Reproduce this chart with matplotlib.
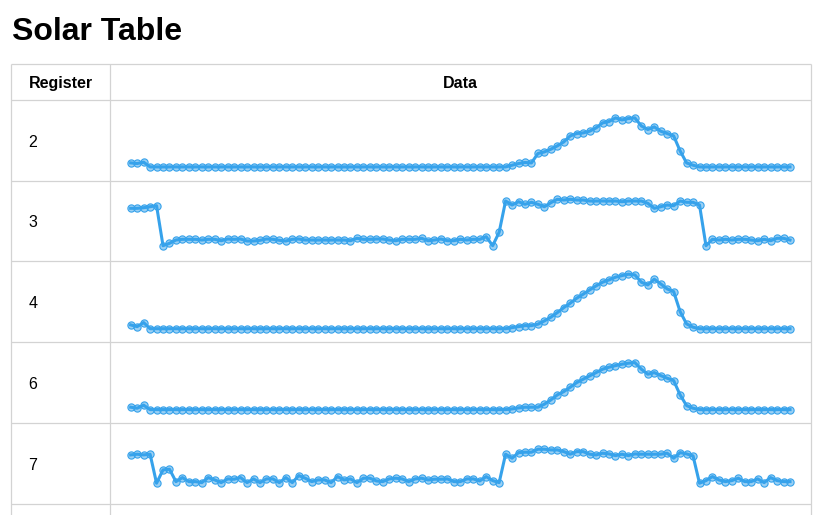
import matplotlib
matplotlib.use("Agg")
import matplotlib.pyplot as plt

plt.rcParams['font.family'] = ['Liberation Sans', 'DejaVu Sans']

# ---------------- data ----------------
title = "Solar Table"
headers = ["Register", "Data"]
registers = ["2", "3", "4", "6", "7"]

reg2 = [4, 3.4, 4.7,
        0, 0, 0, 0, 0, 0, 0, 0, 0, 0, 0, 0, 0, 0, 0, 0, 0, 0, 0, 0, 0, 0, 0, 0, 0, 0, 0, 0,
        0, 0, 0, 0, 0, 0, 0, 0, 0, 0, 0, 0, 0, 0, 0, 0, 0, 0, 0, 0, 0, 0, 0, 0, 0, 0, 0, 0,
        1.7, 3.4, 4.4, 4, 13.4, 15, 17.7, 21, 25, 31, 33.4, 34, 35.7, 39, 44, 45.4, 49, 47,
        48.4, 49, 41, 37.4, 40, 35.7, 33.4, 31, 16, 4, 1.7,
        0, 0, 0, 0, 0, 0, 0, 0, 0, 0, 0, 0, 0, 0, 0]

reg3 = [39.5, 39.5, 40.1, 41.1, 42.1, 2.1, 4.5,
        7.8, 8.5, 8.5, 8.5, 7.8, 8.5, 8.5, 7.1, 8.8, 8.5, 8.8, 6.8, 6.8, 7.5, 8.8, 8.5, 7.5,
        6.8, 8.5, 8.8, 7.8, 7.8, 7.8, 7.8, 7.8, 7.8, 7.8, 7.1, 9.5, 8.5, 8.5, 8.8, 8.8, 7.8,
        7.1, 8.5, 8.5, 8.5, 9.5, 7.1, 7.8, 8.8, 7.1, 7.1, 8.5, 7.8,
        8.5, 8.5, 11.1, 2.1, 15.5, 46.8, 42.8, 46.1, 43.5, 45.5, 43.5, 41.1, 45.1, 48.5,
        47.8, 48.5, 47.8, 47.8, 46.8, 46.8, 46.8, 46.8, 46.8, 46.1, 46.8, 46.8, 46.8, 44.5,
        39.5, 41.1, 42.8, 42.1, 46.8, 45.5, 45.5, 42.8, 2.1, 8.5, 7.8, 8.5, 7.8, 8.5, 8.5,
        7.8, 7.1, 8.5, 7.1, 9.5, 9.5, 7.8]

reg4 = [3.8, 2.1, 6.1,
        0, 0, 0, 0, 0, 0, 0, 0, 0, 0, 0, 0, 0, 0, 0, 0, 0, 0, 0, 0, 0, 0, 0, 0, 0, 0, 0, 0,
        0, 0, 0, 0, 0, 0, 0, 0, 0, 0, 0, 0, 0, 0, 0, 0, 0, 0, 0, 0, 0, 0, 0, 0, 0, 0, 0, 0,
        1.1, 2.1, 3.1, 3.1, 4.5, 7.8, 11.5, 16.1, 21.1, 25.5, 30.5, 34.5, 38.8, 42.8, 46.5,
        48.8, 51.5, 53.1, 54.5, 53.8, 46.5, 43.8, 49.5, 44.8, 39.8, 37.1, 17.1, 4.8, 1.5,
        0, 0, 0, 0, 0, 0, 0, 0, 0, 0, 0, 0, 0, 0, 0]

reg6 = [2.4, 1.4, 4.4,
        0, 0, 0, 0, 0, 0, 0, 0, 0, 0, 0, 0, 0, 0, 0, 0, 0, 0, 0, 0, 0, 0, 0, 0, 0, 0, 0, 0,
        0, 0, 0, 0, 0, 0, 0, 0, 0, 0, 0, 0, 0, 0, 0, 0, 0, 0, 0, 0, 0, 0, 0, 0, 0, 0, 0, 0,
        0.7, 1.7, 2.4, 2.4, 2.4, 5.4, 9.7, 14.7, 18.0, 22.4, 27.0, 30.4, 33.7, 37.0, 40.4,
        42.4, 44.0, 45.4, 46.4, 47.0, 40.4, 35.4, 37.0, 34.0, 31.4, 29.0, 14.7, 4.0, 1.4,
        0, 0, 0, 0, 0, 0, 0, 0, 0, 0, 0, 0, 0, 0, 0]

reg7 = [35.6, 36.3, 35.6, 36.3, 7.3, 20.6, 21.3, 8.9, 12.9, 8.9,
        8.9, 7.9, 12.9, 10.6, 7.9, 11.6, 11.3, 12.9, 7.9, 11.6,
        7.9, 11.6, 11.6, 7.9, 12.9, 7.9, 14.9, 12.3, 8.9, 10.6,
        10.6, 7.9, 13.9, 10.6, 11.6, 7.9, 12.3, 12.3, 9.6, 8.9,
        11.6, 12.3, 11.6, 8.9, 11.6, 12.3, 10.6, 11.3, 11.3, 11.6,
        8.9, 8.9, 11.6,
        11.6, 9.6, 13.9, 9.9, 7.9, 36.3, 32.3, 37.9, 38.3, 38.3,
        41.3, 41.3, 40.6, 40.6, 38.9, 36.3, 38.9, 38.9, 36.3, 35.6,
        37.3, 36.6, 34.9, 36.3, 34.9, 36.6, 36.3, 36.3, 36.3, 36.3,
        37.3, 32.3, 37.9, 36.6, 34.6, 7.3, 9.9, 13.9, 10.6, 8.9,
        9.9, 12.3, 8.9, 8.9, 11.6, 7.9, 12.9, 9.9, 8.9, 8.9]

series = [reg2, reg3, reg4, reg6, reg7]

# ---------------- layout ----------------
W, H = 823, 515
fig = plt.figure(figsize=(W / 100, H / 100), dpi=100)
bg = fig.add_axes([0, 0, 1, 1])
bg.set_xlim(0, W)
bg.set_ylim(H, 0)
bg.axis('off')

grid = '#d3d3d3'
lw = 0.9
x_left, x_mid, x_right = 11, 110, 811
header_top, header_bot = 64, 99.6
row_h = 80.9
row_tops = [header_bot + k * row_h for k in range(len(registers) + 1)]

def px(v):
    return v * 0.72

bg.text(12, 40.5, title, fontsize=px(32), fontweight='bold', va='baseline', ha='left')

# borders
for y in [header_top, header_bot] + row_tops[1:]:
    bg.plot([x_left, x_right], [y, y], color=grid, lw=lw, solid_capstyle='butt')
for x in [x_left, x_mid, x_right]:
    bg.plot([x, x], [header_top, H], color=grid, lw=lw, solid_capstyle='butt')

bg.text((x_left + x_mid) / 2, 88.3, headers[0], fontsize=px(16), fontweight='bold',
        ha='center', va='baseline')
bg.text((x_mid + x_right) / 2, 88.3, headers[1], fontsize=px(16), fontweight='bold',
        ha='center', va='baseline')

blue = '#36A2EB'
n = max(len(s) for s in series)
first_px, last_px = 130.7, 790.0
upp = (n - 1) / (last_px - first_px)

for k, (lab, vals) in enumerate(zip(registers, series)):
    top = row_tops[k]
    bg.text(28.3, top + row_h / 2 + 6.5, lab, fontsize=px(16), ha='left', va='baseline')
    ax = fig.add_axes([(x_mid + 1) / W, (H - (top + row_h)) / H,
                       (x_right - x_mid - 2) / W, row_h / H])
    ax.set_xlim(-(first_px - x_mid - 1) * upp, (n - 1) + (x_right - 1 - last_px) * upp)
    ax.set_ylim(-(row_h - 67.3), 67.3)
    ax.axis('off')
    ax.patch.set_alpha(0)
    ax.plot(list(range(len(vals))), vals, color=blue, lw=2.2, marker='o', markersize=5.2,
            markerfacecolor=(54 / 255, 162 / 255, 235 / 255, 0.5),
            markeredgecolor=blue, markeredgewidth=0.8, clip_on=False)

fig.savefig('out.png', dpi=100)
